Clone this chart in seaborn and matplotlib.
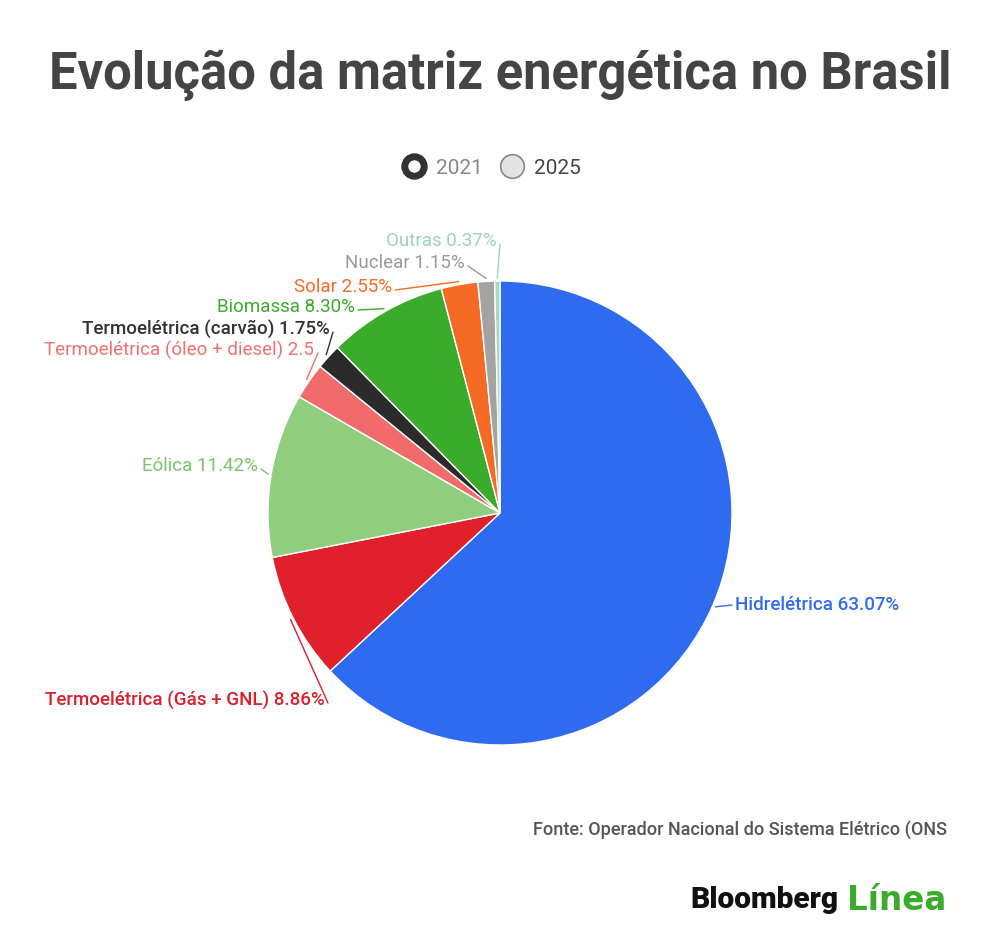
import numpy as np
import matplotlib
matplotlib.use("Agg")
import matplotlib.pyplot as plt
import seaborn as sns
from matplotlib.lines import Line2D
from matplotlib.transforms import Bbox, TransformedBbox

# data (clockwise from 12 o'clock)
sources = ["Hidrelétrica", "Termoelétrica (Gás + GNL)", "Eólica",
           "Termoelétrica (óleo + diesel)", "Termoelétrica (carvão)",
           "Biomassa", "Solar", "Nuclear", "Outras"]
shares = [63.07, 8.86, 11.42, 2.53, 1.75, 8.30, 2.55, 1.15, 0.37]
colors = ["#2e6bf0", "#e0202b", "#8fce7c", "#f26b6b", "#2b2b2b",
          "#3aab2a", "#f56b25", "#a3a3a3", "#a6d9c0"]
label_colors = ["#2e6bf0", "#d9202b", "#7cc46c", "#f07070", "#333333",
                "#3aab2a", "#f56b25", "#9a9a9a", "#9fd3b8"]
years = ["2021", "2025"]

# label placement in pixel units (x, y from top, alignment)
label_pos = [(735, 605, "left"), (325, 700, "right"), (258, 466, "right"),
             (44, 350, "left"), (330, 329, "right"), (355, 307, "right"),
             (392, 287, "right"), (465, 263, "right"), (497, 241, "right")]

W, H = 1000, 943
sns.set_theme(style="white")
plt.rcParams["font.family"] = ["Roboto", "DejaVu Sans"]

fig = plt.figure(figsize=(10, 9.43), dpi=100)
ax = fig.add_axes([0, 0, 1, 1])

cx, cy, R = 500, H - 513, 232
wedges, _ = ax.pie(shares, colors=colors, startangle=90, counterclock=False,
                   center=(cx, cy), radius=R, frame=True,
                   wedgeprops=dict(edgecolor="white", linewidth=1))
ax.set_xlim(0, W)
ax.set_ylim(0, H)
ax.set_aspect("equal")
ax.axis("off")

for i, (w, name, val) in enumerate(zip(wedges, sources, shares)):
    tx, ty, ha = label_pos[i]
    ty = H - ty
    txt = ax.text(tx, ty, f"{name} {val:.2f}%", ha=ha, va="center",
                  fontsize=13.5, color=label_colors[i],
                  fontweight="medium" if i in (0, 1, 4) else "normal")
    if i == 3:
        txt.set_clip_box(TransformedBbox(Bbox([[0, 0], [313, H]]), ax.transData))
        txt.set_clip_on(True)
        end = (318, ty - 3)
    elif ha == "left":
        end = (tx - 3, ty)
    else:
        end = (tx + 3, ty - 3)
    ang = np.deg2rad((w.theta1 + w.theta2) / 2)
    px, py = cx + (R + 3) * np.cos(ang), cy + (R + 3) * np.sin(ang)
    ax.plot([end[0], px], [end[1], py],
            color=label_colors[i], lw=1, solid_capstyle="round")

# title
fig.text(0.5, 1 - 75 / H, "Evolução da matriz energética no Brasil",
         ha="center", va="center", fontsize=36.5, fontweight="bold", color="#444444")

# legend
handles = [Line2D([], [], marker="o", ls="", markersize=14, markerfacecolor="white",
                  markeredgecolor="#333333", markeredgewidth=5),
           Line2D([], [], marker="o", ls="", markersize=17, markerfacecolor="#e4e4e4",
                  markeredgecolor="#888888", markeredgewidth=1.2)]
leg = fig.legend(handles, years, loc="center", bbox_to_anchor=(0.491, 1 - 168 / H),
                 ncol=2, frameon=False, fontsize=15, handletextpad=0.45,
                 columnspacing=0.8, handlelength=1.2)
for t, c in zip(leg.get_texts(), ["#888888", "#444444"]):
    t.set_color(c)

# source and brand
fig.text(947 / W, 1 - 830 / H, "Fonte: Operador Nacional do Sistema Elétrico (ONS",
         ha="right", va="center", fontsize=13, fontweight="medium", color="#555555")
fig.text(838 / W, 1 - 900 / H, "Bloomberg", ha="right", va="center",
         fontsize=21.5, fontweight="heavy", color="#111111")
fig.text(847 / W, 1 - 900 / H, "Línea", ha="left", va="center", family="DejaVu Sans",
         fontsize=23.5, fontweight="bold", color="#3aab2a")

fig.savefig("out.png", dpi=100, facecolor="white")
